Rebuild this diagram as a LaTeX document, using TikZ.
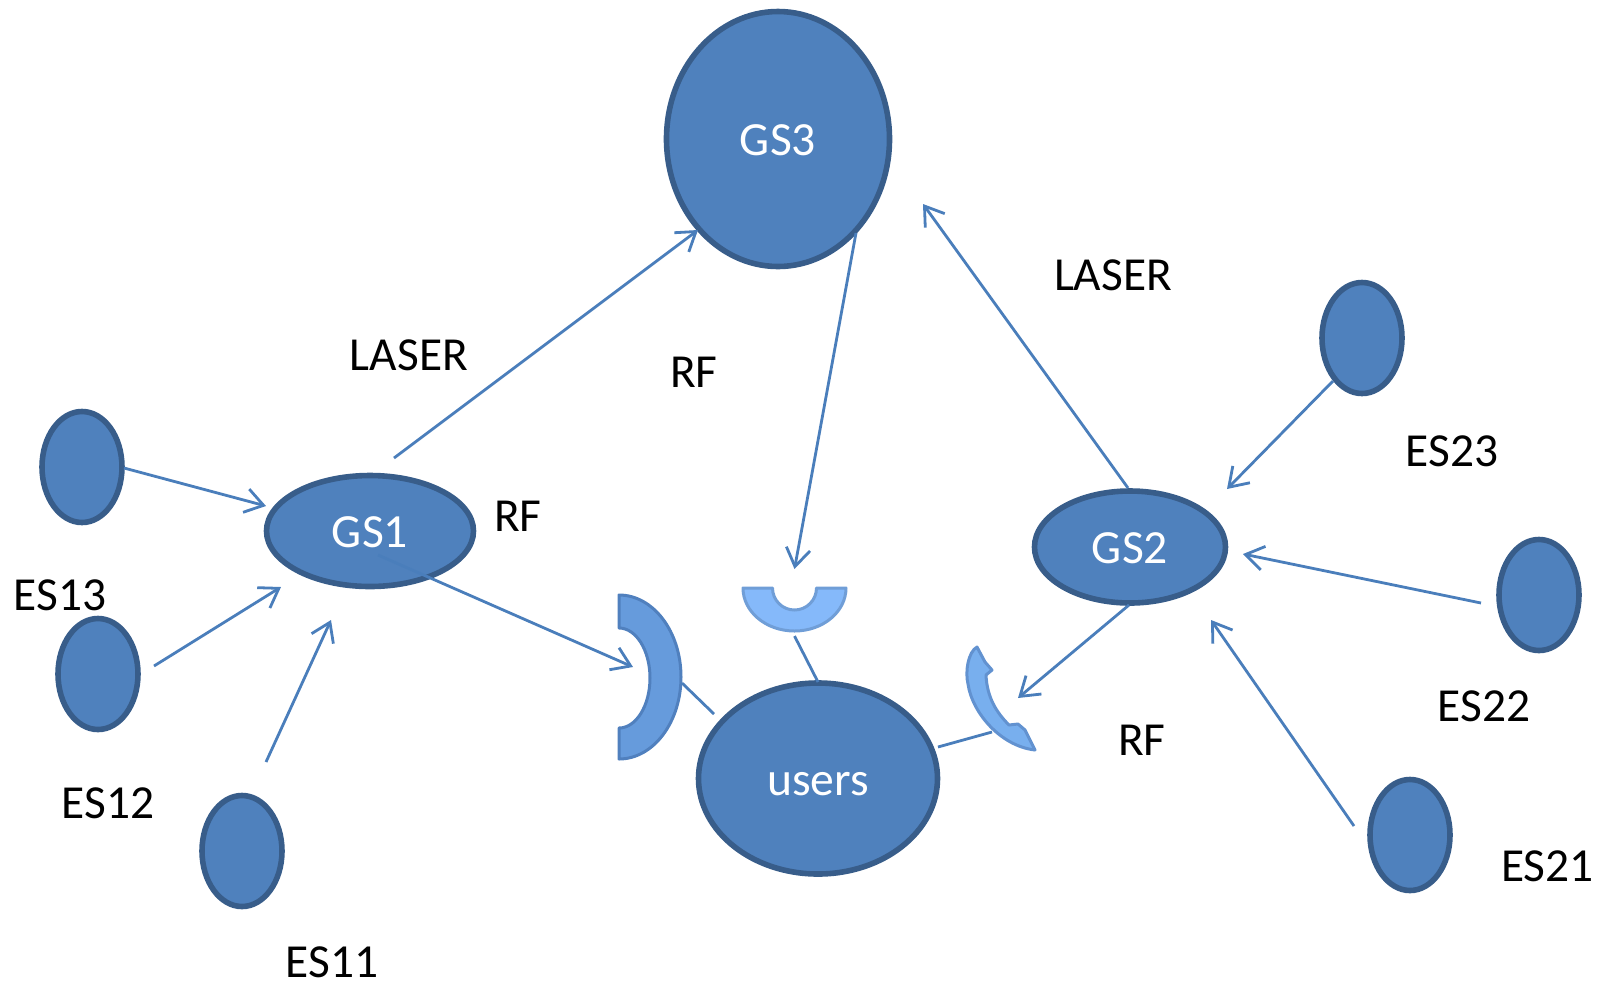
\documentclass[tikz,border=0pt]{standalone}
\usepackage{fontspec}
\setmainfont{Carlito}
\usetikzlibrary{shapes.geometric,arrows.meta}
\definecolor{nodefill}{HTML}{4F81BD}
\definecolor{nodeedge}{HTML}{385D8A}
\definecolor{linkblue}{HTML}{4A7EBB}
\definecolor{dishLfill}{RGB}{102,155,220}
\definecolor{dishLedge}{RGB}{80,128,190}
\definecolor{dishTfill}{RGB}{133,185,250}
\definecolor{dishTedge}{RGB}{112,158,215}
\definecolor{dishRfill}{RGB}{120,175,238}
\definecolor{dishRedge}{RGB}{98,146,208}
\tikzset{
  blob/.style={ellipse,draw=nodeedge,fill=nodefill,line width=2.8pt,inner sep=0pt,text=white,font=\fontsize{23.8}{24}\selectfont,text height=16.6pt,text depth=0pt},
  sat/.style={ellipse,draw=nodeedge,fill=nodefill,line width=2.8pt,inner sep=0pt,minimum width=40pt,minimum height=55.5pt},
  lbl/.style={inner sep=0pt,text=black,font=\fontsize{23.7}{24}\selectfont},
  link/.style={draw=linkblue,line width=1.4pt},
  arrowlink/.style={link,-{Straight Barb[length=9pt,width=12pt,line width=1.4pt]}},
  dish/.style={line width=1.5pt,line join=round}
}
\begin{document}
\begin{tikzpicture}[x=0.5pt,y=-0.5pt]
\useasboundingbox (0,0) rectangle (1602,982);
% dishes
\coordinate (arcL) at (619,677);
\coordinate (arcT) at (794.5,588);
\coordinate (arcR) at (1000,700);
\path[dish,draw=dishLedge,fill=dishLfill] (619,595)
  arc[start angle=-90,end angle=90,x radius=62,y radius=82] -- (619,728)
  arc[start angle=90,end angle=-90,x radius=31,y radius=50] -- cycle;
\path[dish,draw=dishTedge,fill=dishTfill] (743,588)
  arc[start angle=180,end angle=0,x radius=51.5,y radius=43] -- (816.5,588)
  arc[start angle=0,end angle=180,x radius=22,y radius=22] -- cycle;
\path[dish,draw=dishRedge,fill=dishRfill] (977,647)
  .. controls (968,652) and (965,672) .. (968,684)
  .. controls (972,712) and (1000,746) .. (1035,750)
  -- (1025,730) -- (1018,724) -- (1009,725)
  .. controls (996,712) and (987,697) .. (986,675)
  -- (992,670) -- (985,662) -- cycle;
% ellipses
\node[blob,minimum width=111.5pt,minimum height=127.5pt] (gs3) at (778,139) {GS3};
\node[blob,minimum width=103.5pt,minimum height=55.5pt] (gs1) at (370,531) {GS1};
\node[blob,minimum width=95.5pt,minimum height=56pt] (gs2) at (1130,547) {GS2};
\node[blob,minimum width=119.5pt,minimum height=95.5pt] (users) at (818,778.5) {users};
\node[sat] (es13) at (82,467) {};
\node[sat] (es12) at (98,674) {};
\node[sat] (es11) at (242,851) {};
\node[sat] (es23) at (1362,338) {};
\node[sat] (es22) at (1539,595) {};
\node[sat] (es21) at (1410,835) {};
% connectors
\draw[arrowlink] ([shift={(42,1)}]es13.center) -- ([shift={(-104,-25)}]gs1.center);
\draw[arrowlink] ([shift={(56,-8)}]es12.center) -- ([shift={(-89,56)}]gs1.center);
\draw[arrowlink] ([shift={(24,-89)}]es11.center) -- ([shift={(-39,89)}]gs1.center);
\draw[arrowlink] ([shift={(24,-73)}]gs1.center) -- ([shift={(-80,91)}]gs3.center);
\draw[arrowlink] ([shift={(8,24)}]gs1.center) -- ([shift={(14,-10)}]arcL);
\draw[arrowlink] ([shift={(78,94)}]gs3.center) -- ([shift={(0,-19)}]arcT);
\draw[arrowlink] ([shift={(-2,-59)}]gs2.center) -- ([shift={(145,65)}]gs3.center);
\draw[arrowlink] ([shift={(-29,43)}]es23.center) -- ([shift={(97,-58)}]gs2.center);
\draw[arrowlink] ([shift={(-58,8)}]es22.center) -- ([shift={(113,7)}]gs2.center);
\draw[arrowlink] ([shift={(-56,-9)}]es21.center) -- ([shift={(81,73)}]gs2.center);
\draw[arrowlink] ([shift={(-1,58)}]gs2.center) -- ([shift={(18,-2)}]arcR);
\draw[link] ([shift={(0,-96.5)}]users.center) -- ([shift={(0,48)}]arcT);
\draw[link] ([shift={(-104,-64.5)}]users.center) -- ([shift={(63,6)}]arcL);
\draw[link] ([shift={(120,-31.5)}]users.center) -- ([shift={(-8,32)}]arcR);
% labels
\node[lbl] (l1) at (409,355.5) {LASER};
\node[lbl] (l2) at (694,372) {RF};
\node[lbl] (l3) at (518,516) {RF};
\node[lbl] (l4) at (1113,275.5) {LASER};
\node[lbl] (l5) at (1142,740) {RF};
\node[lbl] (e23) at (1452,451.5) {ES23};
\node[lbl] (e22) at (1484,706.5) {ES22};
\node[lbl] (e21) at (1547.5,866.5) {ES21};
\node[lbl] (e13) at (60,595.5) {ES13};
\node[lbl] (e12) at (108,803.5) {ES12};
\node[lbl] (e11) at (332,962.5) {ES11};
\end{tikzpicture}
\end{document}
